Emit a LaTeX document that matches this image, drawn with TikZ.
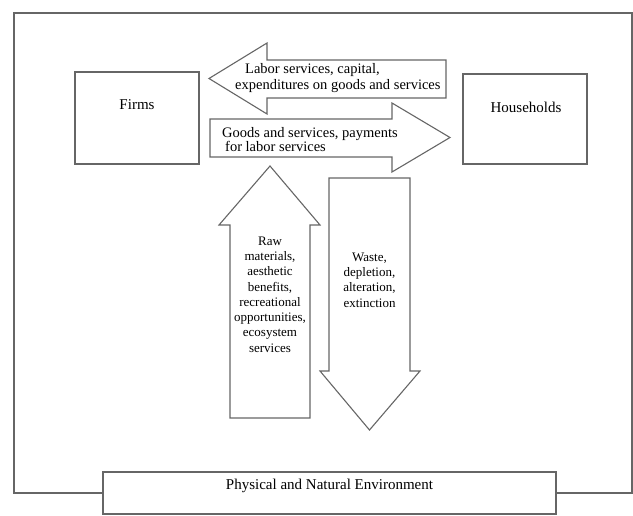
\documentclass[tikz,border=0pt]{standalone}
\usepackage{fontspec}
\setmainfont{Liberation Serif}
\def\laborarrow{(446,60) -- (267,60) -- (267,43) -- (209,78.5) -- (267,114) -- (267,98) -- (446,98) -- cycle}
\def\goodsarrow{(210,119) -- (392,119) -- (392,103) -- (450,137.5) -- (392,172) -- (392,157) -- (210,157) -- cycle}
\def\rawarrow{(230,418) -- (230,225) -- (219,225) -- (270,166) -- (320,225) -- (310,225) -- (310,418) -- cycle}
\def\wastearrow{(329,178) -- (410,178) -- (410,371) -- (420,371) -- (369.5,430) -- (320,371) -- (329,371) -- cycle}
\colorlet{line gray}{black!60}
\tikzset{flow/.style={draw=line gray, line width=1.1pt, fill=white},
	box/.style={flow, inner sep=0pt},
	label/.style={inner sep=0pt, font=\fontsize{15}{16}\selectfont},
	arrowtext/.style={inner sep=0pt, align=left, font=\fontsize{14.5}{16}\selectfont},
	columntext/.style={inner sep=0pt, align=center, font=\fontsize{13}{15.3}\selectfont}}

\begin{document}
\begin{tikzpicture}[x=1pt, y=-1pt]
		\useasboundingbox (0,0) rectangle (633,516);
		\draw[line gray, line width=1.1pt] (14,13) rectangle (632,493);
		\node[box, minimum width=124pt, minimum height=92pt] (firms) at (137,118) {};
		\node[label] (firmsname) at (137,105) {Firms};
		\node[box, minimum width=124pt, minimum height=90pt] (households) at (525,119) {};
		\node[label] (householdsname) at (526,107) {Households};
		\draw[flow] \laborarrow;
		\draw[flow] \goodsarrow;
		\draw[flow] \rawarrow;
		\draw[flow] \wastearrow;
		\node[arrowtext, anchor=west] (labor) at (235,78) {\hspace{10pt}Labor services, capital,\\expenditures on goods and services};
		\node[arrowtext, anchor=west, font=\fontsize{14.5}{13.5}\selectfont] (goods) at (222,139.5) {Goods and services, payments\\\hspace{3pt}for labor services};
		\node[columntext] (raw) at (270,294.5) {Raw\\materials,\\aesthetic\\benefits,\\recreational\\opportunities,\\ecosystem\\services};
		\node[columntext] (waste) at (369.5,280) {Waste,\\depletion,\\alteration,\\extinction};
		\node[box, minimum width=453pt, minimum height=42pt] (environment) at (329.5,493) {};
		\node[label] (environmentname) at (329.5,486) {Physical and Natural Environment};
\end{tikzpicture}
\end{document}
